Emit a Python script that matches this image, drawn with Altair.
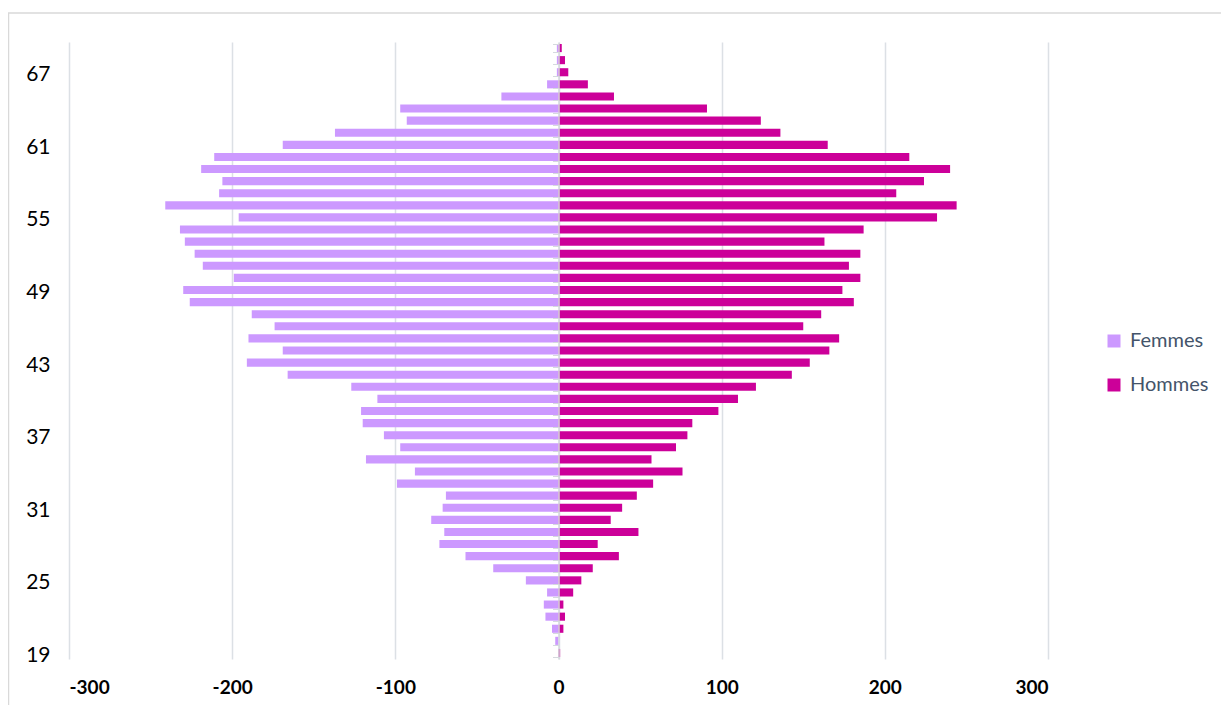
import altair as alt
import pandas as pd

# Ages from top (69) to bottom (19)
ages = list(range(69, 18, -1))
femmes = [1, 1, 1, 7, 35, 97, 93, 137, 169, 211,
          219, 206, 208, 241, 196, 232, 229, 223, 218, 199,
          230, 226, 188, 174, 190, 169, 191, 166, 127, 111,
          121, 120, 107, 97, 118, 88, 99, 69, 71, 78,
          70, 73, 57, 40, 20, 7, 9, 8, 4, 2, 0]
hommes = [2, 4, 6, 18, 34, 91, 124, 136, 165, 215,
          240, 224, 207, 244, 232, 187, 163, 185, 178, 185,
          174, 181, 161, 150, 172, 166, 154, 143, 121, 110,
          98, 82, 79, 72, 57, 76, 58, 48, 39, 32,
          49, 24, 37, 21, 14, 9, 3, 4, 3, 0, 1]
series = ["Femmes", "Hommes"]
colors = ["#CC99FF", "#CC0099"]
y_label_ages = [67, 61, 55, 49, 43, 37, 31, 25, 19]
x_ticks = [-300, -200, -100, 0, 100, 200, 300]

rows = []
for a, f, h in zip(ages, femmes, hommes):
    rows.append({"age": a, "sexe": "Femmes", "valeur": -f})
    rows.append({"age": a, "sexe": "Hommes", "valeur": h})
df = pd.DataFrame(rows)
df_age = pd.DataFrame({"age": ages, "z": [0] * len(ages)})

W, H = 979, 617
FONT = "Lato"

yscale = alt.Scale(domain=ages, paddingInner=0.33, paddingOuter=0.165)
xscale = alt.Scale(domain=[-300, 300], nice=False, zero=False)
xaxis = alt.Axis(values=x_ticks, title=None, labelExpr="'' + datum.value",
                 labelFontSize=19, labelFontWeight="bold", labelFont=FONT,
                 labelColor="#000000", domain=False, ticks=False, labelPadding=19,
                 grid=True, gridColor="#DCE0E5", gridWidth=1.5)

border = alt.Chart(pd.DataFrame({"k": [0]})).mark_rect(
    fill="transparent", stroke="#D9D9D9", strokeWidth=1.5
).encode(
    x=alt.value(-60.5), x2=alt.value(1180), y=alt.value(-29), y2=alt.value(720)
)

bars = alt.Chart(df).mark_bar().encode(
    y=alt.Y("age:O", scale=yscale, sort=None,
            axis=alt.Axis(values=y_label_ages, title=None, domain=False, ticks=False,
                          labelFontSize=21, labelFont=FONT, labelColor="#000000",
                          labelPadding=19, labelOffset=3, orient="left", grid=False)),
    x=alt.X("valeur:Q", scale=xscale, stack=None, axis=xaxis),
    color=alt.Color("sexe:N", scale=alt.Scale(domain=series, range=colors),
                    legend=alt.Legend(title=None, orient="none", legendX=1035, legendY=289,
                                      symbolType="square", symbolSize=169, symbolStrokeWidth=0,
                                      labelFontSize=20, labelFont=FONT, labelColor="#44546A",
                                      rowPadding=24, labelOffset=6)),
)

ticks = alt.Chart(df_age).mark_tick(opacity=0).encode(
    y=alt.Y("age:O", scale=yscale, sort=None,
            axis=alt.Axis(orient="left", offset=-489.5, labels=False, title=None,
                          domainColor="#D5D9DE", domainWidth=1.5, tickColor="#D5D9DE",
                          tickSize=6, tickBand="extent", grid=False, zindex=2)),
    x=alt.X("z:Q", scale=xscale, axis=xaxis),
)

chart = alt.layer(border, bars, ticks).resolve_axis(y="independent").properties(
    width=W, height=H,
    padding={"left": 61, "top": 34, "right": 173, "bottom": 46},
    autosize=alt.AutoSizeParams(type="none"),
).configure_view(strokeWidth=0)

chart.save("out.html", embed_options={"renderer": "svg", "actions": False})
